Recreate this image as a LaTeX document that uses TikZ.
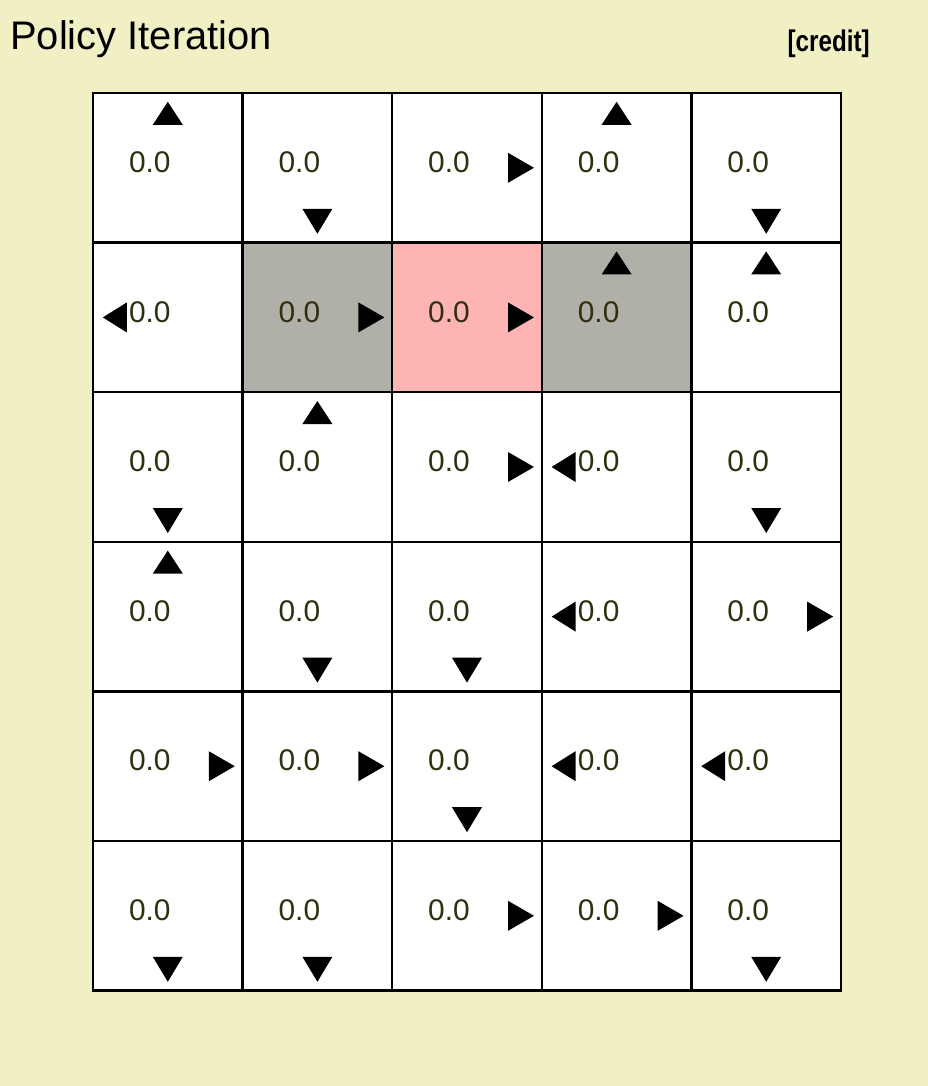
\documentclass[tikz,border=0pt]{standalone}
\usepackage{fontspec}
\setmainfont{Liberation Sans}
\usepackage{graphicx}
\usetikzlibrary{calc, positioning}

\definecolor{bgyellow}{RGB}{240,240,196}
\definecolor{wallgray}{RGB}{176,176,168}
\definecolor{goalpink}{RGB}{255,180,180}
\definecolor{valtext}{RGB}{48,48,16}

\tikzset{
  cell/.style={draw=black, line width=1.4pt, fill=white, minimum size=2.992cm, inner sep=0pt, outer sep=0pt},
  wall/.style={cell, fill=wallgray},
  goal/.style={cell, fill=goalpink},
  val/.style={font=\fontsize{17}{17}\selectfont, text=valtext, inner sep=0pt},
  uptri/.pic={\fill[black] (-15,-43) -- (15,-43) -- (0,-66) -- cycle;},
  downtri/.pic={\fill[black] (-15,41) -- (15,41) -- (0,66) -- cycle;},
  righttri/.pic={\fill[black] (41,-15) -- (41,15) -- (67,0) -- cycle;},
  lefttri/.pic={\fill[black] (-41,-15) -- (-41,15) -- (-65,0) -- cycle;}
}

\begin{document}
\begin{tikzpicture}[x=0.02cm, y=-0.02cm]
    % Background
    \fill[bgyellow] (0,0) rectangle (928,1086);
    \useasboundingbox (0,0) rectangle (928,1086);

    % Heading
    \node[anchor=base west, font=\fontsize{22.7}{24}\selectfont, inner sep=0pt] (title) at (10,49) {Policy Iteration};
    \node[anchor=base east, font=\fontsize{17}{17}\selectfont\bfseries, inner sep=0pt] (credit) at (870,51) {\scalebox{0.81}[1]{[credit]}};

    % Grid cells
    \foreach \r in {0,...,5}
      \foreach \c in {0,...,4}
        \node[cell] (c\r\c) at ({167.8+149.6*\c},{167.8+149.6*\r}) {};
    \node[wall] (w11) at (c11) {};
    \node[goal] (g12) at (c12) {};
    \node[wall] (w13) at (c13) {};

    % Values
    \foreach \r in {0,...,5}
      \foreach \c in {0,...,4}
        \node[val] (v\r\c) at ($(c\r\c)+(-18,-5.5)$) {0.0};

    % Policy arrows
    \pic at (c00) {uptri};    \pic at (c01) {downtri};  \pic at (c02) {righttri}; \pic at (c03) {uptri};    \pic at (c04) {downtri};
    \pic at (c10) {lefttri};  \pic at (c11) {righttri}; \pic at (c12) {righttri}; \pic at (c13) {uptri};    \pic at (c14) {uptri};
    \pic at (c20) {downtri};  \pic at (c21) {uptri};    \pic at (c22) {righttri}; \pic at (c23) {lefttri};  \pic at (c24) {downtri};
    \pic at (c30) {uptri};    \pic at (c31) {downtri};  \pic at (c32) {downtri};  \pic at (c33) {lefttri};  \pic at (c34) {righttri};
    \pic at (c40) {righttri}; \pic at (c41) {righttri}; \pic at (c42) {downtri};  \pic at (c43) {lefttri};  \pic at (c44) {lefttri};
    \pic at (c50) {downtri};  \pic at (c51) {downtri};  \pic at (c52) {righttri}; \pic at (c53) {righttri}; \pic at (c54) {downtri};
\end{tikzpicture}
\end{document}
